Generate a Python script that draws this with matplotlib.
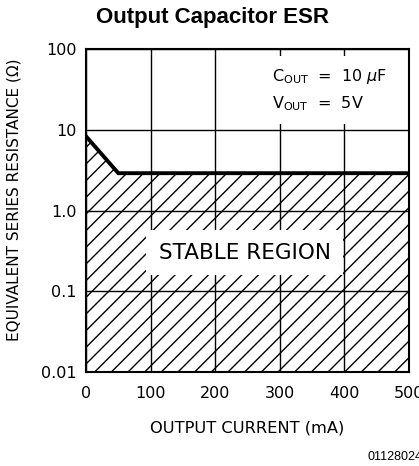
import numpy as np
import matplotlib
matplotlib.use('Agg')
import matplotlib.pyplot as plt

plt.rcParams['font.family'] = 'DejaVu Sans'
plt.rcParams['mathtext.fontset'] = 'dejavusans'
plt.rcParams['hatch.linewidth'] = 1.0

# ESR stability boundary
current_ma = [0, 50, 500]
esr_ohm = [8.3, 2.9, 2.9]
esr_floor = 0.01

x_ticks = [0, 100, 200, 300, 400, 500]
y_ticks = [0.01, 0.1, 1.0, 10, 100]
y_tick_labels = ['0.01', '0.1', '1.0', '10', '100']

fig = plt.figure(figsize=(4.19, 4.66), dpi=100)
ax = fig.add_axes([0.2053, 0.2017, 0.7708, 0.6931])

ax.set_yscale('log')
ax.set_xlim(0, 500)
ax.set_ylim(0.01, 100)

ax.fill_between(current_ma, esr_floor, esr_ohm, facecolor='none',
                edgecolor='black', hatch='//', linewidth=0, zorder=1)
ax.plot(current_ma, esr_ohm, color='black', lw=2.8, solid_joinstyle='miter',
        zorder=5)

ax.set_xticks(x_ticks)
ax.set_yticks(y_ticks)
ax.set_yticklabels(y_tick_labels)
ax.yaxis.set_minor_locator(matplotlib.ticker.NullLocator())
ax.tick_params(axis='both', length=0, labelsize=11.5)
ax.tick_params(axis='x', pad=10)
ax.tick_params(axis='y', pad=7)
ax.grid(True, color='black', lw=1.0, zorder=2)
ax.set_axisbelow(False)
for sp in ax.spines.values():
    sp.set_linewidth(1.5)
    sp.set_zorder(6)

ax.set_xlabel('OUTPUT CURRENT (mA)', fontsize=11.7, labelpad=14)
ax.set_ylabel('EQUIVALENT SERIES RESISTANCE (Ω)', fontsize=11)
ax.yaxis.set_label_coords(-0.2, 0.532)

ax.text(246, 0.3, 'STABLE REGION', fontsize=15.5, ha='center', va='center',
        zorder=4, bbox=dict(facecolor='white', edgecolor='none', pad=9))

ax.text(288, 31, 'C$_{\\mathrm{OUT}}$  =  10 $\\mu$F\nV$_{\\mathrm{OUT}}$  =  5V',
        fontsize=11.5, ha='left', va='center', linespacing=1.6, zorder=4,
        bbox=dict(facecolor='white', edgecolor='none', pad=8))

fig.text(0.508, 0.962, 'Output Capacitor ESR', fontsize=16, fontweight='bold',
         family='Liberation Sans', ha='center', va='center')
fig.text(0.876, 0.019, '01128024', fontsize=9, family='Liberation Sans',
         ha='left', va='center')

fig.savefig('out.png', dpi=100)
